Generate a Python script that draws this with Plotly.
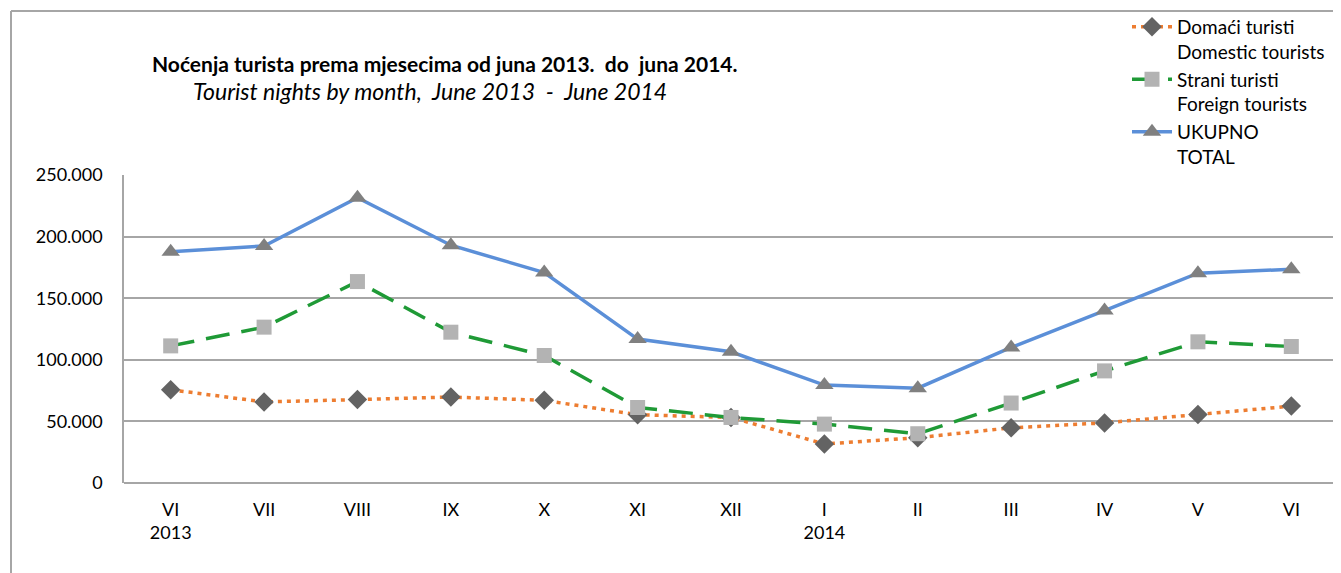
import plotly.graph_objects as go

months = ["VI", "VII", "VIII", "IX", "X", "XI", "XII", "I", "II", "III", "IV", "V", "VI "]
tick_labels = ["VI<br>2013", "VII", "VIII", "IX", "X", "XI", "XII", "I<br>2014", "II", "III", "IV", "V", "VI"]

domaci = [75700, 65800, 67700, 69800, 67100, 55400, 53200, 31700, 36800, 44800, 48800, 55500, 62400]
strani = [111300, 126500, 163500, 122400, 103500, 61300, 53200, 47800, 40000, 64900, 91000, 114600, 110800]
ukupno = [187800, 192400, 231600, 193000, 170800, 116800, 106500, 79500, 77000, 110000, 140000, 170300, 173500]

y_ticks = [0, 50000, 100000, 150000, 200000, 250000]

FONT = "Lato"

fig = go.Figure()
fig.add_trace(go.Scatter(
    x=months, y=domaci, name="Domaći turisti<br>Domestic tourists", mode="lines+markers",
    line=dict(color="#ED7D31", width=3.5, dash="4px,5px"),
    marker=dict(symbol="diamond", size=15, color="#636363"),
))
fig.add_trace(go.Scatter(
    x=months, y=strani, name="Strani turisti<br>Foreign tourists", mode="lines+markers",
    line=dict(color="#1F9A36", width=3.5, dash="24px,12px"),
    marker=dict(symbol="square", size=15, color="#B3B3B3"),
))
fig.add_trace(go.Scatter(
    x=months, y=ukupno, name="UKUPNO<br>TOTAL", mode="lines+markers",
    line=dict(color="#5B8FD8", width=3.5),
    marker=dict(symbol="triangle-up", size=16, color="#808080"),
))

# The page body adds an 8px offset; work in reference-pixel coordinates.
OFF = 8
W, H = 1341 - OFF, 573 - OFF
PL, PR, PT, PB = 124, 1338, 175, 483   # plot area in reference pixels
L, R, T, B = PL - OFF, W - (PR - OFF), PT - OFF, H - (PB - OFF)
pw, ph = W - L - R, H - T - B

def px_x(p):
    return (p - PL) / pw

def px_y(p):
    return (PB - p) / ph

fig.update_layout(
    width=W, height=H,
    margin=dict(l=L, r=R, t=T, b=B, autoexpand=False),
    paper_bgcolor="white", plot_bgcolor="white",
    separators=",.",
    font=dict(family=FONT, size=18, color="#000000"),
    showlegend=True,
    legend=dict(
        x=px_x(1127), y=px_y(8), xanchor="left", yanchor="top",
        font=dict(family=FONT, size=19, color="#000000"),
        bgcolor="rgba(0,0,0,0)", valign="top", tracegroupgap=0,
        itemwidth=40,
    ),
    xaxis=dict(
        type="category", tickmode="array", tickvals=months, ticktext=tick_labels,
        showgrid=False, showline=False, ticks="", zeroline=False,
        tickfont=dict(family=FONT, size=18), ticklabelstandoff=14,
        range=[-0.5, 12.5],
    ),
    yaxis=dict(
        range=[0, 250000], tickmode="array", tickvals=y_ticks, tickformat=",d",
        showgrid=True, gridcolor="#A6A6A6", gridwidth=1.5,
        showline=True, linecolor="#A6A6A6", linewidth=1.5,
        zeroline=True, zerolinecolor="#A6A6A6", zerolinewidth=1.5,
        ticks="", tickfont=dict(family=FONT, size=18), ticklabelstandoff=16,
    ),
    shapes=[
        dict(type="line", xref="paper", yref="paper", x0=px_x(11), x1=px_x(11),
             y0=px_y(11), y1=px_y(600), line=dict(color="#A6A6A6", width=2)),
        dict(type="line", xref="paper", yref="paper", x0=px_x(11), x1=px_x(1400),
             y0=px_y(11), y1=px_y(11), line=dict(color="#A6A6A6", width=2)),
    ],
    annotations=[
        dict(text="<b>Noćenja turista prema mjesecima od juna 2013.  do  juna 2014.</b>",
             xref="paper", yref="paper", x=px_x(445), y=px_y(64), xanchor="center", yanchor="middle",
             showarrow=False, font=dict(family=FONT, size=21, color="#000000")),
        dict(text="<i>Tourist nights by month,  June 2013  -  June 2014</i>",
             xref="paper", yref="paper", x=px_x(430), y=px_y(91), xanchor="center", yanchor="middle",
             showarrow=False, font=dict(family=FONT, size=23, color="#000000")),
    ],
)

fig.write_html("out.html")
